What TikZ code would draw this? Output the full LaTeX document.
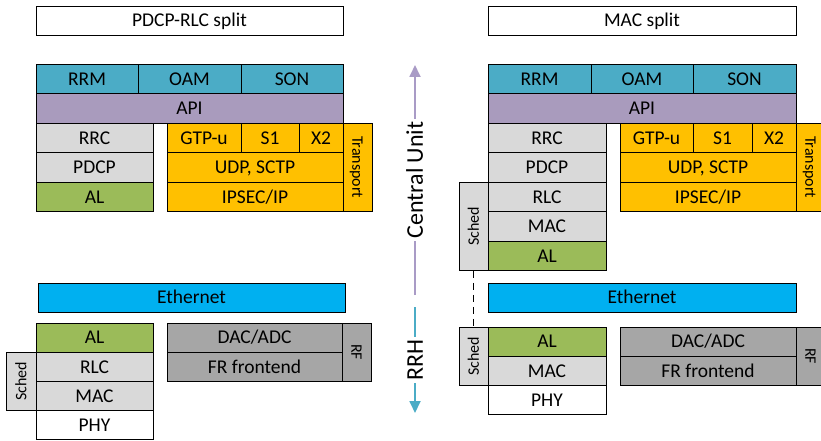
\documentclass[tikz,border=0pt]{standalone}
\usepackage{fontspec}
\setmainfont{Carlito}
\usetikzlibrary{arrows.meta}
\definecolor{mgmtblue}{HTML}{4BACC6}
\definecolor{apipurple}{HTML}{A99BBD}
\definecolor{stackgray}{HTML}{D9D9D9}
\definecolor{algreen}{HTML}{9BBB59}
\definecolor{tporange}{HTML}{FFC000}
\definecolor{ethblue}{HTML}{00B0F0}
\definecolor{rfgray}{HTML}{A6A6A6}
\definecolor{cupurple}{HTML}{A99BC6}
\definecolor{rrhteal}{HTML}{4BACC6}

\begin{document}
\begin{tikzpicture}[x=1pt, y=-1pt, >={Triangle[width=11pt,length=12pt]},
    layer/.style={draw=black, line width=0.8pt, inner sep=0pt, text height=12.6pt, text depth=0pt,
      font=\fontsize{19.5}{21}\selectfont},
    side/.style={layer, text height=10.5pt, font=\fontsize{16}{18}\selectfont},
    mgmt/.style={layer, fill=mgmtblue, minimum height=29.5},
    api/.style={layer, fill=apipurple, minimum height=29.5},
    proto/.style={layer, fill=stackgray, minimum height=29.5},
    adapt/.style={layer, fill=algreen, minimum height=29.5},
    tport/.style={layer, fill=tporange, minimum height=29.5},
    eth/.style={layer, fill=ethblue, minimum height=29},
    radio/.style={layer, fill=rfgray, minimum height=29.2},
    axislabel/.style={fill=white, inner sep=2pt, rotate=90, text height=15.5pt, text depth=0pt,
      font=\fontsize{24}{26}\selectfont}]
    \useasboundingbox (0,0) rectangle (821,441);
    \clip (0,0) rectangle (821,441);

    % ---- PDCP-RLC split, central unit
    \node[layer, minimum width=307, minimum height=29] (titleL) at (189.5,20.5) {PDCP-RLC split};
    \node[mgmt, minimum width=102] (rrmL) at (87,78.75) {RRM};
    \node[mgmt, minimum width=103] (oamL) at (189.5,78.75) {OAM};
    \node[mgmt, minimum width=102] (sonL) at (292,78.75) {SON};
    \node[api, minimum width=307] (apiL) at (189.5,108.25) {API};
    \node[proto, minimum width=117] (rrcL) at (94.5,137.75) {RRC};
    \node[proto, minimum width=117] (pdcpL) at (94.5,167.25) {PDCP};
    \node[adapt, minimum width=117] (alL) at (94.5,196.75) {AL};
    \node[tport, minimum width=74] (gtpL) at (204,137.75) {GTP-u};
    \node[tport, minimum width=58] (sOneL) at (270,137.75) {S1};
    \node[tport, minimum width=44] (xTwoL) at (321,137.75) {X2};
    \node[tport, minimum width=176] (udpL) at (255,167.25) {UDP, SCTP};
    \node[tport, minimum width=176] (ipL) at (255,196.75) {IPSEC/IP};
    \node[side, fill=tporange, rotate=-90, minimum width=88.5, minimum height=29] (tportL) at (357.5,167.25) {Transport};

    % ---- PDCP-RLC split, RRH
    \node[eth, minimum width=307] (ethL) at (191.5,297.5) {Ethernet};
    \node[adapt, minimum width=117, minimum height=29.2] (alLo) at (94.5,337.6) {AL};
    \node[proto, minimum width=117, minimum height=29.2] (rlcLo) at (94.5,366.8) {RLC};
    \node[proto, minimum width=117, minimum height=29.2] (macLo) at (94.5,396) {MAC};
    \node[layer, minimum width=117, minimum height=29.2] (phyLo) at (94.5,425.2) {PHY};
    \node[side, fill=stackgray, rotate=90, minimum width=58.4, minimum height=30] (schedL) at (21,381.4) {Sched};
    \node[radio, minimum width=175] (dacL) at (254.5,337.6) {DAC/ADC};
    \node[radio, minimum width=175] (frL) at (254.5,366.8) {FR frontend};
    \node[side, fill=rfgray, rotate=-90, minimum width=58.4, minimum height=29] (rfL) at (356.5,352.2) {RF};

    % ---- central unit / RRH axis
    \coordinate (cuTop) at (415,65);
    \coordinate (cuBot) at (415,295);
    \coordinate (rrhTop) at (415,307);
    \coordinate (rrhBot) at (415,413);
    \draw[->, cupurple, line width=1.8pt] (cuBot) -- node[axislabel, text=black] (cuLabel) {Central Unit} (cuTop);
    \draw[->, rrhteal, line width=1.8pt] (rrhTop) -- node[axislabel, text=black] (rrhLabel) {RRH} (rrhBot);

    % ---- MAC split, central unit
    \node[layer, minimum width=308, minimum height=29] (titleR) at (642,20.5) {MAC split};
    \node[mgmt, minimum width=103] (rrmR) at (539.5,78.75) {RRM};
    \node[mgmt, minimum width=102] (oamR) at (642,78.75) {OAM};
    \node[mgmt, minimum width=103] (sonR) at (744.5,78.75) {SON};
    \node[api, minimum width=308] (apiR) at (642,108.25) {API};
    \node[proto, minimum width=118] (rrcR) at (547,137.75) {RRC};
    \node[proto, minimum width=118] (pdcpR) at (547,167.25) {PDCP};
    \node[proto, minimum width=118] (rlcR) at (547,196.75) {RLC};
    \node[proto, minimum width=118] (macR) at (547,226.25) {MAC};
    \node[adapt, minimum width=118] (alR) at (547,255.75) {AL};
    \node[side, fill=stackgray, rotate=90, minimum width=88.5, minimum height=29] (schedUR) at (473.5,226.25) {Sched};
    \node[tport, minimum width=73] (gtpR) at (656.5,137.75) {GTP-u};
    \node[tport, minimum width=59] (sOneR) at (722.5,137.75) {S1};
    \node[tport, minimum width=44] (xTwoR) at (774,137.75) {X2};
    \node[tport, minimum width=176] (udpR) at (708,167.25) {UDP, SCTP};
    \node[tport, minimum width=176] (ipR) at (708,196.75) {IPSEC/IP};
    \node[side, fill=tporange, rotate=-90, minimum width=88.5, minimum height=29] (tportR) at (810.5,167.25) {Transport};

    % ---- MAC split, RRH
    \node[eth, minimum width=308] (ethR) at (642,297.5) {Ethernet};
    \node[adapt, minimum width=118, minimum height=29.2] (alRo) at (547,341.6) {AL};
    \node[proto, minimum width=118, minimum height=29.2] (macRo) at (547,370.8) {MAC};
    \node[layer, minimum width=118, minimum height=29.2] (phyRo) at (547,400) {PHY};
    \node[side, fill=stackgray, rotate=90, minimum width=58.4, minimum height=29] (schedLR) at (473.5,356.2) {Sched};
    \node[radio, minimum width=176] (dacR) at (708,341.6) {DAC/ADC};
    \node[radio, minimum width=176] (frR) at (708,370.8) {FR frontend};
    \node[side, fill=rfgray, rotate=-90, minimum width=58.4, minimum height=29] (rfR) at (810.5,356.2) {RF};

    \draw[line width=1.2pt, dash pattern=on 7pt off 5pt] (schedUR.west) -- (schedLR.east);
\end{tikzpicture}
\end{document}
